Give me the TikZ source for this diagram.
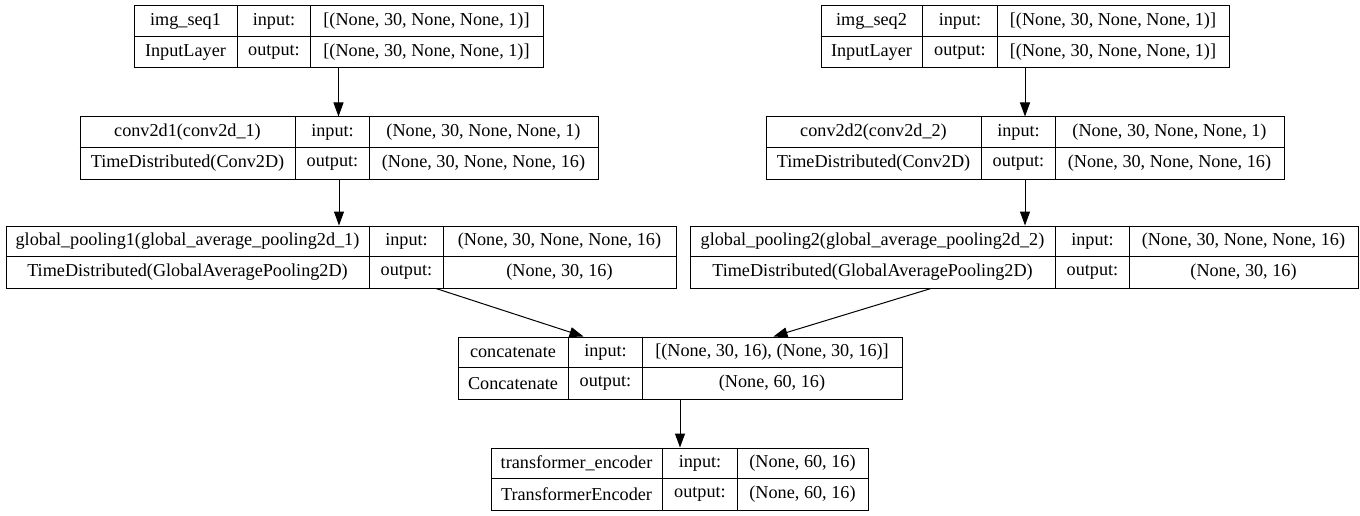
\documentclass[tikz,border=0pt]{standalone}
\usepackage{fontspec}
\setmainfont{Liberation Serif}
\usetikzlibrary{arrows.meta}
\tikzset{
  lay/.style={draw, line width=1pt, rectangle, inner sep=0pt, minimum height=62pt},
  div/.style={line width=1pt},
  txt/.style={inner sep=0pt, font=\fontsize{18.2pt}{20pt}\selectfont},
  edge/.style={line width=1pt, -{Triangle[length=14pt,width=10pt]}}
}
\newcommand\layer[6]{% name L D1 D2 R T
  \node[lay, minimum width={#5pt-#2pt}, anchor=north west] (#1) at (#2,#6) {};
  \draw[div] (#2,#6+31) -- (#5,#6+31);
  \draw[div] (#3,#6) -- (#3,#6+62);
  \draw[div] (#4,#6) -- (#4,#6+62);
  \gdef\lL{#2}\gdef\lA{#3}\gdef\lB{#4}\gdef\lR{#5}\gdef\lT{#6}%
}
\newcommand\labels[5]{% name, layer name, class, input, output
  \node[txt] (#1-n) at ({(\lL+\lA)/2},{\lT+16}) {#2};
  \node[txt] (#1-c) at ({(\lL+\lA)/2},{\lT+47}) {#3};
  \node[txt] (#1-i) at ({(\lA+\lB)/2},{\lT+16}) {input:};
  \node[txt] (#1-o) at ({(\lA+\lB)/2},{\lT+47}) {output:};
  \node[txt] (#1-iv) at ({(\lB+\lR)/2},{\lT+16}) {#4};
  \node[txt] (#1-ov) at ({(\lB+\lR)/2},{\lT+47}) {#5};
}
\begin{document}
\begin{tikzpicture}[x=1pt,y=-1pt]
\useasboundingbox[fill=white] (0,0) rectangle (1360,516);

\layer{in1}{133.5}{237.5}{310.5}{542.5}{5.5}
\labels{in1}{img\_seq1}{InputLayer}{[(None, 30, None, None, 1)]}{[(None, 30, None, None, 1)]}

\layer{in2}{820.5}{922.5}{997.5}{1228.5}{5.5}
\labels{in2}{img\_seq2}{InputLayer}{[(None, 30, None, None, 1)]}{[(None, 30, None, None, 1)]}

\layer{c1}{79.5}{295.5}{369.5}{597.5}{116.5}
\labels{c1}{conv2d1(conv2d\_1)}{TimeDistributed(Conv2D)}{(None, 30, None, None, 1)}{(None, 30, None, None, 16)}

\layer{c2}{765.5}{981.5}{1055.5}{1283.5}{116.5}
\labels{c2}{conv2d2(conv2d\_2)}{TimeDistributed(Conv2D)}{(None, 30, None, None, 1)}{(None, 30, None, None, 16)}

\layer{g1}{5.5}{369.5}{443.5}{675.5}{225.5}
\labels{g1}{global\_pooling1(global\_average\_pooling2d\_1)}{TimeDistributed(GlobalAveragePooling2D)}{(None, 30, None, None, 16)}{(None, 30, 16)}

\layer{g2}{689.5}{1055.5}{1129.5}{1357.5}{225.5}
\labels{g2}{global\_pooling2(global\_average\_pooling2d\_2)}{TimeDistributed(GlobalAveragePooling2D)}{(None, 30, None, None, 16)}{(None, 30, 16)}

\layer{cc}{457.5}{568.5}{642.5}{901.5}{336.5}
\labels{cc}{concatenate}{Concatenate}{[(None, 30, 16), (None, 30, 16)]}{(None, 60, 16)}

\layer{te}{490.5}{662.5}{737.5}{867.5}{447.5}
\labels{te}{transformer\_encoder}{TransformerEncoder}{(None, 60, 16)}{(None, 60, 16)}

\draw[edge] (in1.south) -- (in1.south |- c1.north);
\draw[edge] (in2.south) -- (in2.south |- c2.north);
\draw[edge] (c1.south) -- (c1.south |- g1.north);
\draw[edge] (c2.south) -- (c2.south |- g2.north);
\draw[edge] ([xshift=430.5pt]g1.south west) -- ([xshift=126pt]cc.north west);
\draw[edge] ([xshift=241.5pt]g2.south west) -- ([xshift=316pt]cc.north west);
\draw[edge] (cc.south) -- (cc.south |- te.north);
\end{tikzpicture}
\end{document}
